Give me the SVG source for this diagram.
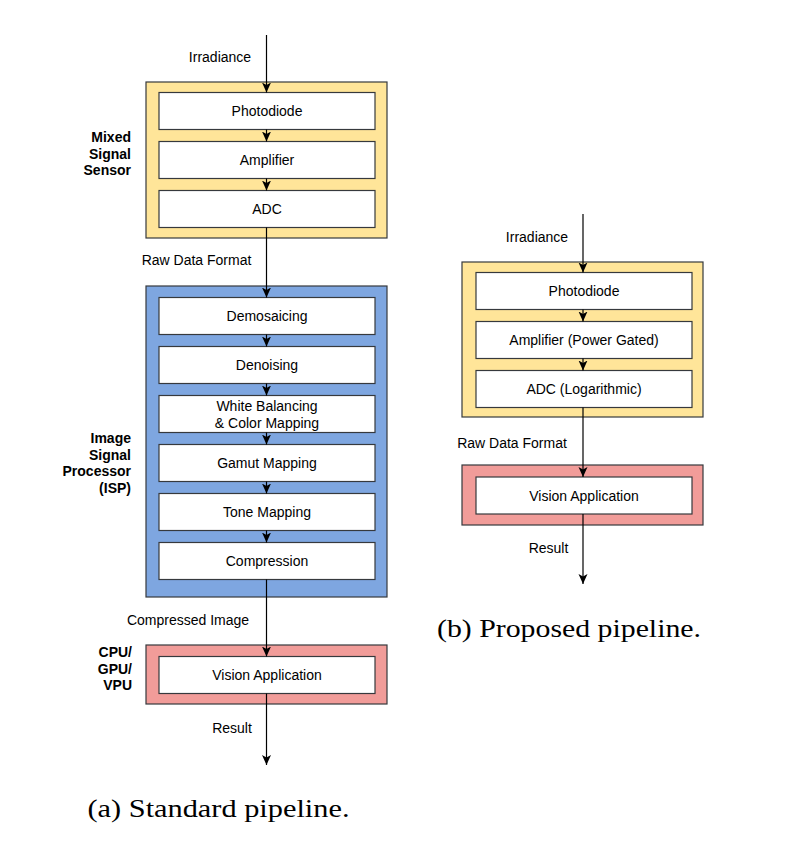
<svg xmlns="http://www.w3.org/2000/svg" width="786" height="848" viewBox="0 0 786 848">
<defs>
<marker id="arr" markerUnits="userSpaceOnUse" markerWidth="12" markerHeight="12" refX="10" refY="4.5" orient="auto">
<path d="M0,0 L10,4.5 L0,9 L2.5,4.5 Z" fill="#000"/>
</marker>
<style>
.yc{fill:#FFE599;stroke:#36393d;stroke-width:1.2}
.bc{fill:#7EA6E0;stroke:#36393d;stroke-width:1.2}
.rc{fill:#F19C99;stroke:#36393d;stroke-width:1.2}
.bx{fill:#fff;stroke:#36393d;stroke-width:1.2}
.t{font-family:"Liberation Sans",Arial,sans-serif;font-size:14px;fill:#000;text-anchor:middle;dominant-baseline:central}
.lb{font-family:"Liberation Sans",Arial,sans-serif;font-size:14px;font-weight:bold;fill:#000;text-anchor:end;dominant-baseline:central}
.cap{font-family:"Liberation Serif","Times New Roman",serif;font-size:26px;fill:#000}
.ln{stroke:#000;stroke-width:1.2;fill:none;marker-end:url(#arr)}
</style>
</defs>
<rect width="786" height="848" fill="#fff"/>

<g id="sensorA">
<rect class="yc" x="146" y="82" width="241" height="156"/>
<text class="lb" x="131" y="137">Mixed</text>
<text class="lb" x="131" y="153.5">Signal</text>
<text class="lb" x="131" y="170">Sensor</text>
</g>
<g id="photodiodeA"><rect class="bx" x="159" y="92.5" width="216" height="37"/><text class="t" x="267" y="111">Photodiode</text></g>
<g id="amplifierA"><rect class="bx" x="159" y="141.5" width="216" height="37"/><text class="t" x="267" y="160">Amplifier</text></g>
<g id="adcA"><rect class="bx" x="159" y="190.5" width="216" height="37"/><text class="t" x="267" y="209">ADC</text></g>

<g id="ispA">
<rect class="bc" x="146" y="286" width="241" height="311"/>
<text class="lb" x="131" y="438">Image</text>
<text class="lb" x="131" y="454.5">Signal</text>
<text class="lb" x="131" y="471">Processor</text>
<text class="lb" x="131" y="487.5">(ISP)</text>
</g>
<g id="demosaicing"><rect class="bx" x="159" y="297.5" width="216" height="37"/><text class="t" x="267" y="316">Demosaicing</text></g>
<g id="denoising"><rect class="bx" x="159" y="346.5" width="216" height="37"/><text class="t" x="267" y="365">Denoising</text></g>
<g id="whitebalancing"><rect class="bx" x="159" y="395.5" width="216" height="37"/><text class="t" x="267" y="406">White Balancing</text><text class="t" x="267" y="423">&amp; Color Mapping</text></g>
<g id="gamut"><rect class="bx" x="159" y="444.5" width="216" height="37"/><text class="t" x="267" y="463">Gamut Mapping</text></g>
<g id="tone"><rect class="bx" x="159" y="493.5" width="216" height="37"/><text class="t" x="267" y="512">Tone Mapping</text></g>
<g id="compression"><rect class="bx" x="159" y="542.5" width="216" height="37"/><text class="t" x="267" y="561">Compression</text></g>

<g id="cpuA">
<rect class="rc" x="146" y="645" width="241" height="59"/>
<text class="lb" x="132" y="652">CPU/</text>
<text class="lb" x="132" y="668.5">GPU/</text>
<text class="lb" x="132" y="685">VPU</text>
</g>
<g id="visionA"><rect class="bx" x="159" y="656.5" width="216" height="37"/><text class="t" x="267" y="675">Vision Application</text></g>

<g id="sensorB"><rect class="yc" x="462" y="262" width="241" height="155"/></g>
<g id="photodiodeB"><rect class="bx" x="476" y="272.5" width="216" height="37"/><text class="t" x="584" y="291">Photodiode</text></g>
<g id="amplifierB"><rect class="bx" x="476" y="321.5" width="216" height="37"/><text class="t" x="584" y="340">Amplifier (Power Gated)</text></g>
<g id="adcB"><rect class="bx" x="476" y="370.5" width="216" height="37"/><text class="t" x="584" y="389">ADC (Logarithmic)</text></g>
<g id="cpuB"><rect class="rc" x="462" y="465" width="241" height="60"/></g>
<g id="visionB"><rect class="bx" x="476" y="477" width="216" height="37"/><text class="t" x="584" y="495.5">Vision Application</text></g>

<g id="connectors">
<line class="ln" x1="266.5" y1="35" x2="266.5" y2="92.5"/>
<line class="ln" x1="266.5" y1="129.5" x2="266.5" y2="141.5"/>
<line class="ln" x1="266.5" y1="178.5" x2="266.5" y2="190.5"/>
<line class="ln" x1="266.5" y1="227.5" x2="266.5" y2="297.5"/>
<line class="ln" x1="266.5" y1="334.5" x2="266.5" y2="346.5"/>
<line class="ln" x1="266.5" y1="383.5" x2="266.5" y2="395.5"/>
<line class="ln" x1="266.5" y1="432.5" x2="266.5" y2="444.5"/>
<line class="ln" x1="266.5" y1="481.5" x2="266.5" y2="493.5"/>
<line class="ln" x1="266.5" y1="530.5" x2="266.5" y2="542.5"/>
<line class="ln" x1="266.5" y1="579.5" x2="266.5" y2="656.5"/>
<line class="ln" x1="266.5" y1="693.5" x2="266.5" y2="765"/>
<line class="ln" x1="583" y1="214" x2="583" y2="272.5"/>
<line class="ln" x1="583" y1="309.5" x2="583" y2="321.5"/>
<line class="ln" x1="583" y1="358.5" x2="583" y2="370.5"/>
<line class="ln" x1="583" y1="407.5" x2="583" y2="477"/>
<line class="ln" x1="583" y1="514" x2="583" y2="584"/>
<text class="t" x="220" y="57">Irradiance</text>
<text class="t" x="196.5" y="260">Raw Data Format</text>
<text class="t" x="188" y="620">Compressed Image</text>
<text class="t" x="232" y="727.5">Result</text>
<text class="t" x="537" y="237">Irradiance</text>
<text class="t" x="512" y="443">Raw Data Format</text>
<text class="t" x="548.5" y="548">Result</text>
</g>

<text class="cap" x="87.5" y="817" textLength="262" lengthAdjust="spacingAndGlyphs">(a) Standard pipeline.</text>
<text class="cap" x="437" y="637" textLength="264" lengthAdjust="spacingAndGlyphs">(b) Proposed pipeline.</text>
</svg>
